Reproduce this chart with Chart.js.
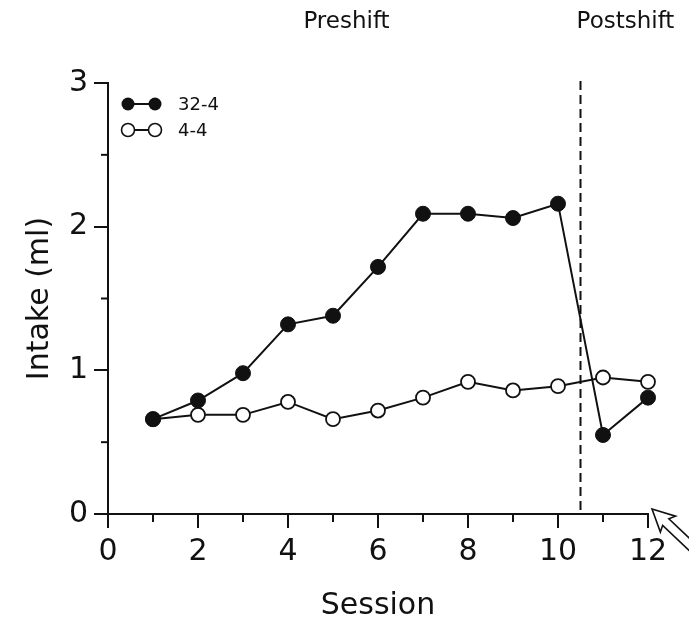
<!DOCTYPE html>
<html>
<head>
<meta charset="utf-8">
<script src="https://cdn.jsdelivr.net/npm/chart.js@4.4.1/dist/chart.umd.min.js"></script>
<style>
  body { margin: 0; background: #fff; }
  canvas { display: block; }
</style>
</head>
<body>
<canvas id="intakeChart" width="689" height="626"></canvas>
<script>
/* values */
var sessions = [1, 2, 3, 4, 5, 6, 7, 8, 9, 10, 11, 12];
var shifted = [0.66, 0.79, 0.98, 1.32, 1.38, 1.72, 2.09, 2.09, 2.06, 2.16, 0.55, 0.81];   // 32-4
var unshifted = [0.66, 0.69, 0.69, 0.78, 0.66, 0.72, 0.81, 0.92, 0.86, 0.89, 0.95, 0.92]; // 4-4
var seriesLabels = ['32-4', '4-4'];
var phaseLabels = ['Preshift', 'Postshift'];
var phasePositions = [5.3, 11.5];
var shiftAt = 10.5;

var fontFamily = '"DejaVu Sans", sans-serif';
var ink = '#111';

function toPoints(values) {
    var pts = [];
    for (var i = 0; i < sessions.length; i++) {
        pts.push({ x: sessions[i], y: values[i] });
    }
    return pts;
}

// dashed shift line, minor ticks, legend, phase labels, arrow
var extras = {
    id: 'extras',
    beforeDatasetsDraw: function(chart) {
        var ctx = chart.ctx;
        var xs = chart.scales.x, ys = chart.scales.y;
        ctx.save();
        ctx.strokeStyle = ink;
        ctx.lineWidth = 2;
        ctx.setLineDash([9, 5]);
        var px = xs.getPixelForValue(shiftAt);
        ctx.beginPath();
        ctx.moveTo(px, ys.getPixelForValue(3) - 2);
        ctx.lineTo(px, ys.getPixelForValue(0));
        ctx.stroke();
        ctx.restore();
    },
    afterDraw: function(chart) {
        var ctx = chart.ctx;
        var xs = chart.scales.x, ys = chart.scales.y;
        var area = chart.chartArea;
        ctx.save();
        ctx.strokeStyle = ink;
        ctx.fillStyle = ink;
        ctx.lineWidth = 2;

        // minor ticks
        var v, p;
        for (v = 0.5; v < 3; v += 1) {
            p = ys.getPixelForValue(v);
            ctx.beginPath();
            ctx.moveTo(area.left - 7, p);
            ctx.lineTo(area.left, p);
            ctx.stroke();
        }
        for (v = 1; v < 12; v += 2) {
            p = xs.getPixelForValue(v);
            ctx.beginPath();
            ctx.moveTo(p, area.bottom);
            ctx.lineTo(p, area.bottom + 8);
            ctx.stroke();
        }

        // legend
        var lx = area.left + 20;
        var rows = [area.top + 21, area.top + 47];
        for (var i = 0; i < 2; i++) {
            var ly = rows[i];
            ctx.lineWidth = 2;
            ctx.beginPath();
            ctx.moveTo(lx, ly);
            ctx.lineTo(lx + 27, ly);
            ctx.stroke();
            [lx, lx + 27].forEach(function(cx) {
                ctx.beginPath();
                ctx.arc(cx, ly, 6.5, 0, Math.PI * 2);
                if (i === 0) {
                    ctx.fill();
                } else {
                    ctx.fillStyle = '#fff';
                    ctx.fill();
                    ctx.lineWidth = 1.6;
                    ctx.stroke();
                    ctx.fillStyle = ink;
                }
            });
            ctx.font = '18px ' + fontFamily;
            ctx.textAlign = 'left';
            ctx.textBaseline = 'middle';
            ctx.fillText(seriesLabels[i], lx + 50, ly + 1);
        }

        // phase labels
        ctx.font = '23px ' + fontFamily;
        ctx.textAlign = 'center';
        ctx.textBaseline = 'middle';
        for (var j = 0; j < phaseLabels.length; j++) {
            ctx.fillText(phaseLabels[j], xs.getPixelForValue(phasePositions[j]), 22);
        }

        // hollow arrow pointing at the axis end
        var tipX = area.right + 4, tipY = area.bottom - 5;
        ctx.translate(tipX, tipY);
        ctx.rotate(Math.atan2(38, 40));
        ctx.lineWidth = 1.6;
        ctx.fillStyle = '#fff';
        ctx.beginPath();
        ctx.moveTo(0, 0);
        ctx.lineTo(22, -11);
        ctx.lineTo(19, -4.5);
        ctx.lineTo(80, -4.5);
        ctx.lineTo(80, 4.5);
        ctx.lineTo(19, 4.5);
        ctx.lineTo(22, 11);
        ctx.closePath();
        ctx.fill();
        ctx.stroke();
        ctx.restore();
    }
};

var ctx = document.getElementById('intakeChart').getContext('2d');
var intakeChart = new Chart(ctx, {
    type: 'line',
    data: {
        datasets: [{
            label: seriesLabels[0],
            data: toPoints(shifted),
            borderColor: ink,
            borderWidth: 2,
            pointRadius: 7.5,
            pointBackgroundColor: ink,
            pointBorderColor: ink,
            pointBorderWidth: 1,
            clip: false,
            tension: 0
        }, {
            label: seriesLabels[1],
            data: toPoints(unshifted),
            borderColor: ink,
            borderWidth: 2,
            pointRadius: 7,
            pointBackgroundColor: '#fff',
            pointBorderColor: ink,
            pointBorderWidth: 1.8,
            clip: false,
            tension: 0
        }]
    },
    options: {
        responsive: false,
        animation: false,
        layout: { padding: { top: 83, right: 41, left: 0, bottom: 0 } },
        plugins: {
            legend: { display: false },
            tooltip: { enabled: false }
        },
        scales: {
            x: {
                type: 'linear',
                min: 0,
                max: 12,
                afterFit: function(scale) { scale.height = 112; },
                border: { color: ink, width: 2 },
                grid: { drawOnChartArea: false, drawTicks: true, tickLength: 14, color: ink, lineWidth: 2 },
                ticks: { stepSize: 2, color: ink, padding: 6, maxRotation: 0, font: { family: fontFamily, size: 30 } },
                title: { display: true, text: 'Session', color: ink, padding: { top: 0, bottom: 2 }, font: { family: fontFamily, size: 30 } }
            },
            y: {
                min: 0,
                max: 3,
                afterFit: function(scale) { scale.width = 108; },
                border: { color: ink, width: 2 },
                grid: { drawOnChartArea: false, drawTicks: true, tickLength: 14, color: ink, lineWidth: 2 },
                ticks: { stepSize: 1, color: ink, padding: 6, font: { family: fontFamily, size: 30 } },
                title: { display: true, text: 'Intake (ml)', color: ink, padding: { top: 22, bottom: 0 }, font: { family: fontFamily, size: 30 } }
            }
        }
    },
    plugins: [extras]
});
</script>
</body>
</html>
